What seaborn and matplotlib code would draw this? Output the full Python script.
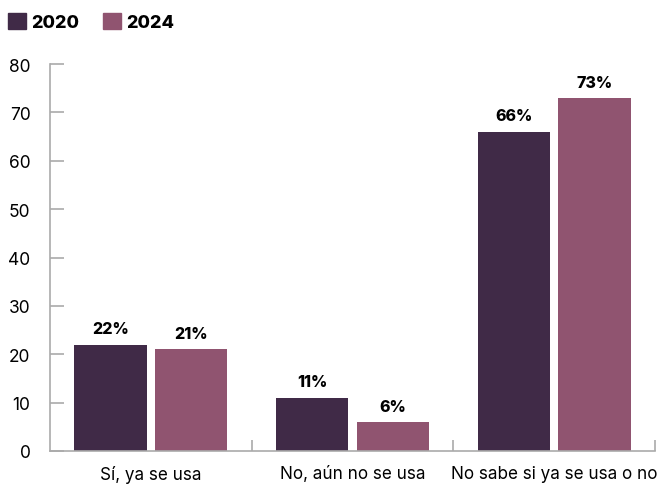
import numpy as np
import pandas as pd
import matplotlib
matplotlib.use('agg')
import matplotlib.pyplot as plt
import seaborn as sns
from matplotlib.patches import Patch

categorias = ['Sí, ya se usa', 'No, aún no se usa', 'No sabe si ya se usa o no']
anios = ['2020', '2024']
valores_2020 = [22, 11, 66]
valores_2024 = [21, 6, 73]
colores = ['#402a47', '#905470']

df = pd.DataFrame({
    'categoria': categorias * 2,
    'anio': [anios[0]] * 3 + [anios[1]] * 3,
    'valor': valores_2020 + valores_2024,
})

sns.set_style('white')
plt.rcParams['font.family'] = ['Inter', 'DejaVu Sans']
plt.rcParams['text.color'] = 'black'
plt.rcParams['xtick.color'] = 'black'
plt.rcParams['ytick.color'] = 'black'

fig = plt.figure(figsize=(6.57, 4.85), dpi=100)
ax = fig.add_axes([50 / 657, 33 / 485, 605 / 657, 387 / 485])

sns.barplot(data=df, x='categoria', y='valor', hue='anio', palette=colores,
            width=0.8, gap=0.1, ax=ax, legend=False, saturation=1, linewidth=0)

for cont in ax.containers:
    ax.bar_label(cont, fmt='%g%%', padding=6, fontsize=11.5, fontweight='heavy')

ax.set_xlim(-0.5, 2.5)
ax.set_ylim(0, 80)
ax.set_yticks(np.arange(0, 81, 10))
ax.set_xlabel('')
ax.set_ylabel('')

gris = '#aaaaaa'
for s in ['top', 'right']:
    ax.spines[s].set_visible(False)
for s in ['left', 'bottom']:
    ax.spines[s].set_color(gris)
    ax.spines[s].set_linewidth(1.2)

ax.tick_params(axis='y', direction='in', length=10, width=1.2, color=gris,
               pad=14, labelsize=12.5, left=True)
ax.tick_params(axis='x', which='major', length=0, pad=10, labelsize=12.3)
ax.set_xticks([0.5, 1.5, 2.5], minor=True)
ax.tick_params(axis='x', which='minor', direction='in', length=8, width=1.2,
               color=gris, bottom=True)

handles = [Patch(color=c, label=a) for c, a in zip(colores, anios)]
fig.legend(handles=handles, loc='upper left', bbox_to_anchor=(-0.013, 1.005), ncol=2,
           frameon=False, handlelength=1.0, handleheight=1.0, handletextpad=0.3,
           columnspacing=1.3, prop={'weight': 'heavy', 'size': 13})

fig.savefig('out.png', dpi=100)
